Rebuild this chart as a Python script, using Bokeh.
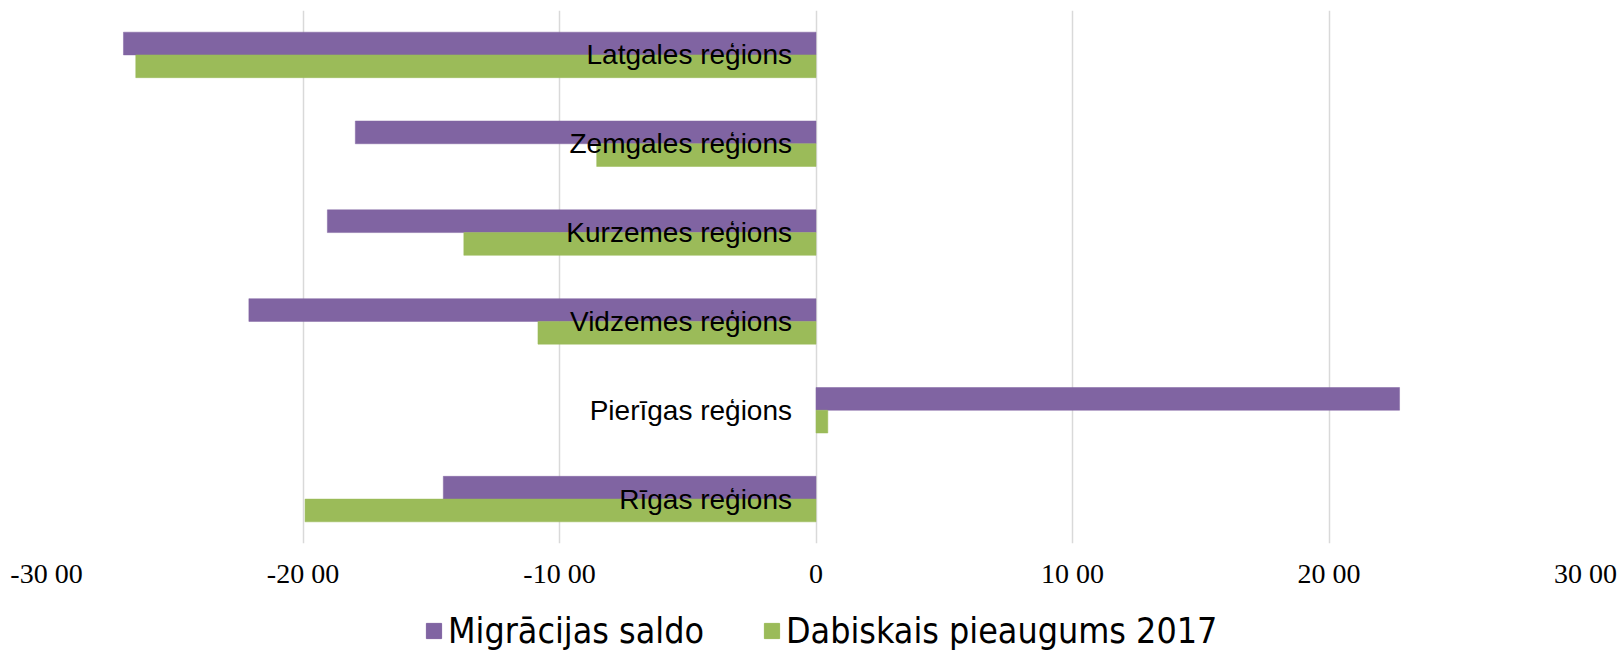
from bokeh.plotting import figure
from bokeh.layouts import column
from bokeh.models import FactorRange, FixedTicker, Legend, LegendItem, ColumnDataSource
from bokeh.transform import dodge
from bokeh.core.properties import value
from bokeh.embed import file_html
from bokeh.resources import INLINE

# Data (bottom to top, as drawn)
regions = ["Rīgas reģions", "Pierīgas reģions", "Vidzemes reģions",
           "Kurzemes reģions", "Zemgales reģions", "Latgales reģions"]
migracijas_saldo = [-1453, 2275, -2211, -1905, -1796, -2700]
dabiskais_pieaugums = [-1992, 46, -1084, -1373, -855, -2652]
series_names = ["Migrācijas saldo", "Dabiskais pieaugums 2017"]
tick_values = [-3000, -2000, -1000, 0, 1000, 2000, 3000]
tick_labels = ["-30 00", "-20 00", "-10 00", "0", "10 00", "20 00", "30 00"]

PURPLE = "#8064A2"
GREEN = "#9BBB59"

src = ColumnDataSource(dict(region=regions, mig=migracijas_saldo, nat=dabiskais_pieaugums))

p = figure(width=1621, height=605, output_backend="svg", toolbar_location=None,
           y_range=FactorRange(*regions), x_range=(-3000, 3000),
           min_border_left=46, min_border_right=36, min_border_top=10, min_border_bottom=62)
p.outline_line_color = None
p.background_fill_color = "white"
p.border_fill_color = "white"

r1 = p.hbar(y=dodge("region", 0.128, range=p.y_range), left=0, right="mig", height=0.256,
            source=src, fill_color=PURPLE, line_color=PURPLE, line_width=0.5)
r2 = p.hbar(y=dodge("region", -0.128, range=p.y_range), left=0, right="nat", height=0.256,
            source=src, fill_color=GREEN, line_color=GREEN, line_width=0.5)

p.text(x=0, y="region", text="region", source=src, x_offset=-24,
       text_align="right", text_baseline="middle",
       text_font=value("Liberation Sans"), text_font_size="28px", text_color="black")

p.yaxis.visible = False
p.ygrid.grid_line_color = None
p.xaxis.ticker = FixedTicker(ticks=tick_values)
p.xaxis.major_label_overrides = {v: l for v, l in zip(tick_values, tick_labels)}
p.xaxis.axis_line_color = None
p.xaxis.major_tick_line_color = None
p.xaxis.minor_tick_line_color = None
p.xaxis.major_tick_out = 0
p.xaxis.major_tick_in = 0
p.xaxis.major_label_text_font = "Liberation Serif"
p.xaxis.major_label_text_font_size = "28px"
p.xaxis.major_label_text_color = "black"
p.xaxis.major_label_standoff = 14
p.xgrid.ticker = FixedTicker(ticks=tick_values)
p.xgrid.grid_line_color = "#d9d9d9"
p.xgrid.grid_line_width = 1.5

# Legend strip below the chart (legend swatches come from the same series styles)
p2 = figure(width=1621, height=46, output_backend="svg", toolbar_location=None,
            x_range=(0, 1), y_range=(0, 1), x_axis_type=None, y_axis_type=None,
            min_border=0, min_border_left=0, min_border_right=0,
            min_border_top=0, min_border_bottom=0)
p2.outline_line_color = None
p2.grid.grid_line_color = None
l1 = p2.hbar(y=[-5], left=[0.5], right=[0.5], height=0.1, fill_color=PURPLE, line_color=PURPLE)
l2 = p2.hbar(y=[-5], left=[0.5], right=[0.5], height=0.1, fill_color=GREEN, line_color=GREEN)
legend = Legend(items=[LegendItem(label=series_names[0], renderers=[l1]),
                       LegendItem(label=series_names[1], renderers=[l2])],
                location=(378, 0), orientation="horizontal",
                glyph_width=19, glyph_height=19, label_standoff=5, spacing=58,
                padding=0, margin=0, border_line_color=None, background_fill_alpha=0,
                label_text_font="DejaVu Sans Condensed", label_text_font_size="35.5px",
                label_text_color="black")
p2.add_layout(legend, "center")

open("out.html", "w").write(file_html(column(p, p2, spacing=0), INLINE))
